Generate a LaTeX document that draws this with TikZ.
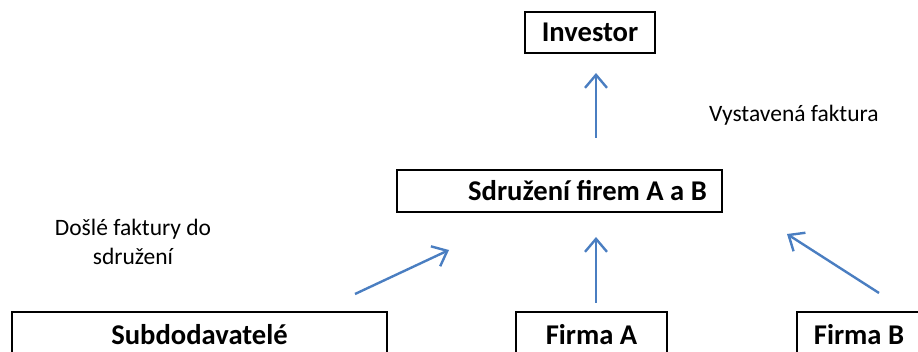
\documentclass[tikz,border=0pt]{standalone}
\usepackage{fontspec}
\setmainfont{Carlito}
\usetikzlibrary{arrows.meta,calc}
\definecolor{arrblue}{RGB}{74,126,193}
\begin{document}
\begin{tikzpicture}[x=1pt,y=-1pt,
  boxtext/.style={inner sep=0pt,font=\fontsize{28.6}{32}\selectfont\bfseries},
  box/.style={boxtext,draw=black,line width=2pt},
  lbl/.style={inner sep=0pt,font=\fontsize{23.5}{29}\selectfont},
  arr/.style={draw=arrblue,line width=2.4pt,-{Straight Barb[length=13pt,width=22pt,line width=2.4pt]}}]
\useasboundingbox (0,0) rectangle (918,352);
\clip (0,0) rectangle (918,352);
\node[box,minimum width=130pt,minimum height=41pt] (inv) at (590,32.5) {Investor};
\node[box,minimum width=325pt,minimum height=42pt] (sdr) at (559.5,191) {};
\node[boxtext] (sdrt) at (587.5,191) {Sdružení firem A a B};
\node[box,minimum width=375pt,minimum height=46pt] (sub) at (199.5,335) {Subdodavatelé};
\node[box,minimum width=151pt,minimum height=46pt] (fa) at (591.5,335) {Firma A};
\node[box,minimum width=124pt,minimum height=46pt] (fb) at (859,335) {Firma B};
\node[lbl,anchor=west] (vf) at (709,115) {Vystavená faktura};
\node[lbl,align=center] (df) at (133,242) {Došlé faktury do\\sdružení};
\coordinate (a1s) at (596,138); \coordinate (a1e) at (596,73);
\coordinate (a2s) at (596,303); \coordinate (a2e) at (596,237);
\coordinate (a3s) at (355,294); \coordinate (a3e) at (449,250);
\coordinate (a4s) at (879,293); \coordinate (a4e) at (787,234);
\draw[arr] (a1s) -- (a1e);
\draw[arr] (a2s) -- (a2e);
\draw[arr] (a3s) -- (a3e);
\draw[arr] (a4s) -- (a4e);
\end{tikzpicture}
\end{document}
